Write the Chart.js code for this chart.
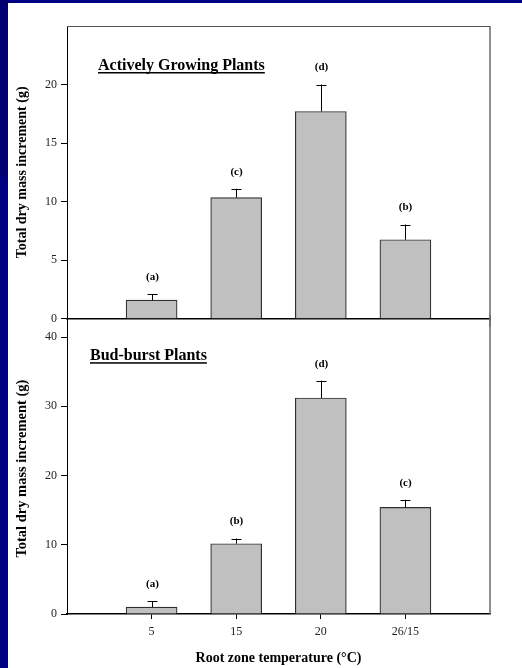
<!DOCTYPE html>
<html>
<head>
<meta charset="utf-8">
<script src="https://cdn.jsdelivr.net/npm/chart.js@4.4.1/dist/chart.umd.min.js"></script>
<style>
  html, body { margin: 0; padding: 0; }
  body { width: 522px; height: 668px; position: relative; overflow: hidden; background: #000082; }
  #stripTop { position: absolute; left: 0; top: 0; width: 8px; height: 177px; background: #000070; }
  #paper { position: absolute; left: 8px; top: 3px; right: 0; bottom: 0; background: #ffffff; }
  canvas { position: absolute; left: 0; }
  #c1 { top: 0; }
  #c2 { top: 312px; }
</style>
</head>
<body>
<div id="stripTop"></div>
<div id="paper"></div>
<canvas id="c1" width="522" height="330"></canvas>
<canvas id="c2" width="522" height="356"></canvas>
<script>
// ---- data ----
const categories = ['5', '15', '20', '26/15'];
const growingMeans = [1.6, 10.35, 17.7, 6.75];
const growingErrors = [0.5, 0.75, 2.3, 1.3];
const growingLetters = ['(a)', '(c)', '(d)', '(b)'];
const budburstMeans = [1.0, 10.15, 31.2, 15.4];
const budburstErrors = [0.85, 0.75, 2.5, 1.1];
const budburstLetters = ['(a)', '(b)', '(d)', '(c)'];
const growingTicks = [0, 5, 10, 15, 20];
const budburstTicks = [0, 10, 20, 30, 40];
const growingTitle = 'Actively Growing Plants';
const budburstTitle = 'Bud-burst Plants';
const yTitle = 'Total dry mass increment (g)';
const xTitle = 'Root zone temperature (\u00B0C)';

// padded category labels: an empty slot on each side of the four treatments
const paddedLabels = [''].concat(categories, ['']);
function pad(arr) { return [null].concat(arr, [null]); }

const SERIF = '"Liberation Serif", "Times New Roman", serif';

function decorPlugin(means, errors, letters, title, titleDx, titleDy, drawTop) {
  return {
    id: 'decor',
    afterDatasetsDraw(chart) {
      const ctx = chart.ctx;
      const ca = chart.chartArea;
      const ys = chart.scales.y;
      const meta = chart.getDatasetMeta(0);
      ctx.save();
      // frame lines
      ctx.strokeStyle = '#6a6a6a';
      ctx.lineWidth = 1.5;
      ctx.beginPath();
      ctx.moveTo(ca.right, ca.top - (drawTop ? 0 : 8));
      ctx.lineTo(ca.right, ca.bottom + (drawTop ? 8 : 0));
      ctx.stroke();
      if (drawTop) {
        ctx.lineWidth = 1;
        ctx.strokeStyle = '#555';
        ctx.beginPath();
        ctx.moveTo(ca.left, ca.top + 0.5);
        ctx.lineTo(ca.right, ca.top + 0.5);
        ctx.stroke();
      } else {
        // left axis line continues up to the panel above
        ctx.lineWidth = 1;
        ctx.strokeStyle = '#000';
        ctx.beginPath();
        ctx.moveTo(ca.left + 0.5, ca.top - 8);
        ctx.lineTo(ca.left + 0.5, ca.bottom);
        ctx.stroke();
      }
      // error bars + letters
      ctx.strokeStyle = '#000';
      ctx.lineWidth = 1;
      ctx.fillStyle = '#000';
      ctx.font = 'bold 11px ' + SERIF;
      ctx.textAlign = 'center';
      ctx.textBaseline = 'middle';
      for (let i = 0; i < means.length; i++) {
        const bar = meta.data[i + 1];
        if (!bar) continue;
        const x = Math.round(bar.x) + 0.5;
        const yBar = ys.getPixelForValue(means[i]);
        const yTop = ys.getPixelForValue(means[i] + errors[i]);
        ctx.beginPath();
        ctx.moveTo(x, yBar);
        ctx.lineTo(x, yTop);
        ctx.moveTo(x - 5, Math.round(yTop) + 0.5);
        ctx.lineTo(x + 5, Math.round(yTop) + 0.5);
        ctx.stroke();
        ctx.fillText(letters[i], x, yTop - 17);
      }
      // panel title (bold, underlined)
      ctx.font = 'bold 16px ' + SERIF;
      ctx.textAlign = 'left';
      ctx.textBaseline = 'alphabetic';
      const tx = ca.left + titleDx, ty = ca.top + titleDy;
      ctx.fillText(title, tx, ty);
      const w = ctx.measureText(title).width;
      ctx.fillRect(tx, ty + 2, w, 1.5);
      ctx.restore();
    }
  };
}

function makeChart(id, means, errors, letters, title, ticks, yMax, isBottom) {
  const yAxis = {
    min: 0,
    max: yMax,
    afterBuildTicks: s => { s.ticks = ticks.map(v => ({ value: v })); },
    afterFit: s => { s.width = 67; },
    grid: { display: true, drawOnChartArea: false, drawTicks: true, tickLength: 6, color: '#000', lineWidth: 1 },
    border: { display: true, color: '#000', width: 1 },
    ticks: { font: { family: SERIF, size: 12 }, color: '#222', padding: 4 },
    title: {
      display: true, text: yTitle, color: '#000',
      font: { family: SERIF, size: isBottom ? 14.5 : 14, weight: 'bold' },
      padding: { top: 14, bottom: 0 }
    }
  };
  const xAxis = isBottom ? {
    type: 'category',
    offset: false,
    afterFit: s => { s.height = 54; },
    grid: {
      display: true, offset: false, drawOnChartArea: false, drawTicks: true, tickLength: 5,
      color: '#000',
      tickColor: c => (c.index === 0 || c.index === paddedLabels.length - 1) ? 'rgba(0,0,0,0)' : '#000'
    },
    border: { display: true, color: '#000', width: 1.5 },
    ticks: { font: { family: SERIF, size: 12 }, color: '#222', padding: 6, autoSkip: false, maxRotation: 0 },
    title: {
      display: true, text: xTitle, color: '#000',
      font: { family: SERIF, size: 14, weight: 'bold' },
      padding: { top: 0, bottom: 1 }
    }
  } : {
    type: 'category',
    offset: false,
    afterFit: s => { s.height = 0; },
    grid: { display: false, offset: false },
    border: { display: true, color: '#000', width: 1.5 },
    ticks: { display: false }
  };
  return new Chart(document.getElementById(id), {
    type: 'bar',
    data: {
      labels: paddedLabels,
      datasets: [{
        data: pad(means),
        backgroundColor: '#c0c0c0',
        borderColor: '#303030',
        borderWidth: 1.2,
        barThickness: 51,
        borderSkipped: 'bottom'
      }]
    },
    options: {
      responsive: false,
      animation: false,
      devicePixelRatio: 1,
      layout: { padding: isBottom ? { top: 7, right: 32, bottom: 0, left: 0 } : { top: 26, right: 32, bottom: 11, left: 0 } },
      plugins: { legend: { display: false }, tooltip: { enabled: false } },
      scales: { x: xAxis, y: yAxis }
    },
    plugins: [decorPlugin(means, errors, letters, title, isBottom ? 23 : 31, isBottom ? 37 : 44, !isBottom)]
  });
}

makeChart('c1', growingMeans, growingErrors, growingLetters, growingTitle, growingTicks, 25, false);
makeChart('c2', budburstMeans, budburstErrors, budburstLetters, budburstTitle, budburstTicks, 42, true);
</script>
</body>
</html>
